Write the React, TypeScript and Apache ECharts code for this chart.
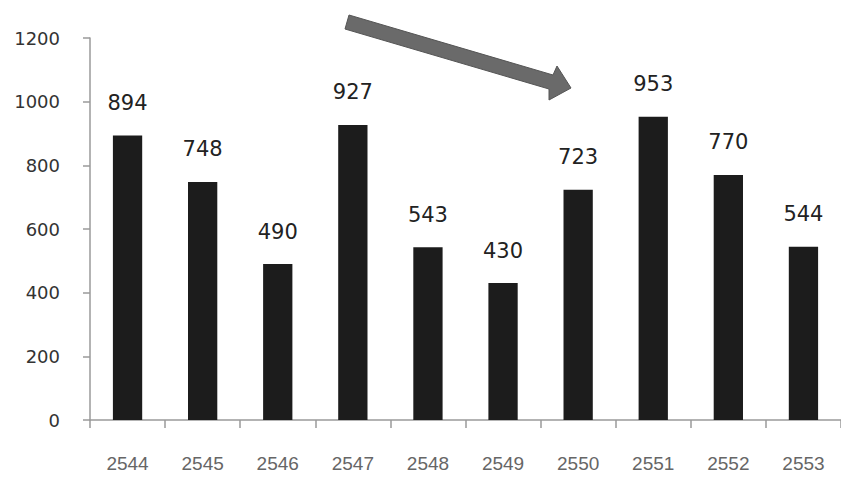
import React, { useEffect, useRef } from "react";
import * as echarts from "echarts";

const categories = ["2544", "2545", "2546", "2547", "2548", "2549", "2550", "2551", "2552", "2553"];
const values = [894, 748, 490, 927, 543, 430, 723, 953, 770, 544];

export default function App() {
  const ref = useRef<HTMLDivElement>(null);
  useEffect(() => {
    if (!ref.current) return;
    const chart = echarts.init(ref.current, undefined, { renderer: "svg" });
    chart.setOption({
      animation: false,
      backgroundColor: "#ffffff",
      grid: { left: 90, right: -4, top: 38, bottom: 63, containLabel: false },
      xAxis: {
        type: "category",
        data: categories,
        boundaryGap: true,
        axisLine: { show: true, lineStyle: { color: "#9a9a9a", width: 1.5 } },
        axisTick: { show: true, alignWithLabel: false, length: 8, lineStyle: { color: "#9a9a9a", width: 1.5 } },
        axisLabel: { margin: 34, fontSize: 19, color: "#666666", fontFamily: "Liberation Sans" },
      },
      yAxis: {
        type: "value",
        min: 0,
        max: 1200,
        interval: 200,
        splitLine: { show: false },
        axisLine: { show: true, lineStyle: { color: "#9a9a9a", width: 1.5 } },
        axisTick: { show: true, length: 7, lineStyle: { color: "#9a9a9a", width: 1.5 } },
        axisLabel: {
          margin: 30,
          fontSize: 18,
          color: "#333333",
          fontFamily: "DejaVu Sans",
          formatter: (v: number) => String(v),
        },
      },
      series: [
        {
          type: "bar",
          data: values,
          barWidth: "39%",
          itemStyle: { color: "#1c1c1c" },
          label: {
            show: true,
            position: "top",
            distance: 22,
            fontSize: 21,
            color: "#222222",
            fontFamily: "DejaVu Sans",
          },
        },
      ],
      graphic: [
        {
          type: "polygon",
          shape: {
            points: [
              [349, 15],
              [553, 75],
              [557, 66],
              [571, 88],
              [549, 100],
              [549, 89],
              [345, 29],
            ],
          },
          style: { fill: "#6a6a6a", stroke: "#555555", lineWidth: 1 },
        },
      ],
    });
    return () => chart.dispose();
  }, []);
  return <div ref={ref} style={{ position: "absolute", left: 0, top: 0, width: 841, height: 483 }} />;
}
